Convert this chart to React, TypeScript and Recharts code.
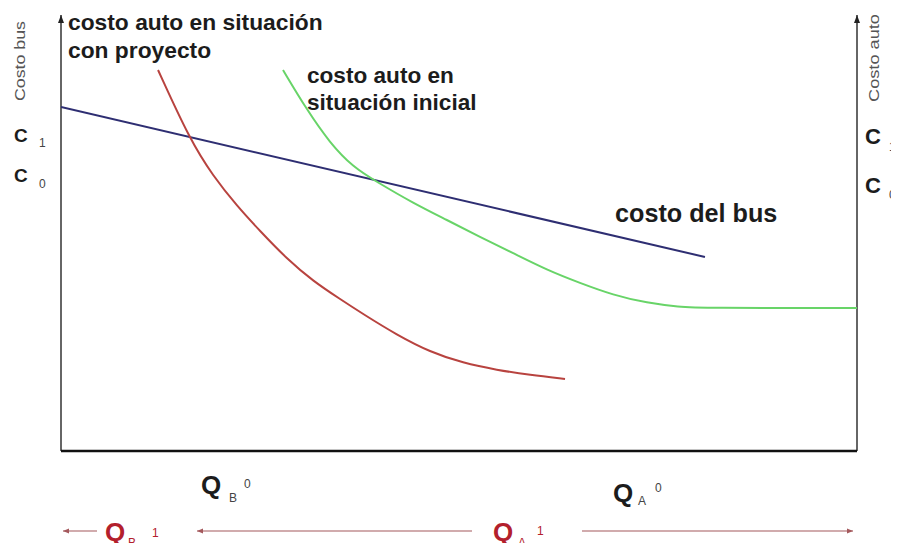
import React from "react";
import { LineChart, Line, XAxis, YAxis, ReferenceLine, ReferenceDot } from "recharts";

// Quantity axis runs 0..100 (left = bus, right = auto); cost axis 0..100
const busX = [0, 80.9];
const busY = [78.9, 44.5];

const autoProyectoX = [12.19, 16.21, 19.1, 22.11, 25.0, 28.39, 31.66, 35.05, 37.94, 42.21, 46.36, 50.5, 54.77, 58.92, 63.32];
const autoProyectoY = [87.39, 71.33, 63.07, 56.19, 50.46, 44.04, 38.99, 34.86, 31.42, 26.61, 22.71, 20.18, 18.58, 17.43, 16.51];

const autoInicialX = [27.89, 30.9, 33.79, 36.68, 39.7, 44.22, 48.49, 52.64, 56.78, 61.06, 65.2, 69.35, 73.62, 77.76, 80.28, 100];
const autoInicialY = [87.39, 78.21, 70.64, 65.14, 61.7, 56.88, 52.98, 49.08, 45.41, 41.51, 38.53, 35.78, 33.94, 33.03, 32.8, 32.8];

const toRows = (xs: number[], ys: number[]) => xs.map((x, i) => ({ x, y: ys[i] }));
const busData = toRows(busX, busY);
const proyectoData = toRows(autoProyectoX, autoProyectoY);
const inicialData = toRows(autoInicialX, autoInicialY);

const FONT = "'Liberation Sans', Arial, sans-serif";
const DARK = "#1c1c1c";
const QRED = "#b3202c";
const ARROW = "#a4585c";
const GREEN = "#68d468";

const ArrowUp = (props: any) => {
  const { cx, cy } = props;
  return <path d={`M${cx - 3},${cy + 8} L${cx + 3},${cy + 8} L${cx},${cy} Z`} fill="#222" />;
};

const HArrow = ({ x1, x2, y }: { x1: number; x2: number; y: number }) => {
  const dir = x2 > x1 ? 1 : -1;
  return (
    <g>
      <line x1={x1} y1={y} x2={x2} y2={y} stroke={ARROW} strokeWidth={1.2} />
      <path
        d={`M${x2},${y} L${x2 - dir * 6},${y - 2.5} L${x2 - dir * 6},${y + 2.5} Z`}
        fill={ARROW}
      />
    </g>
  );
};

export default function App() {
  return (
    <div style={{ width: 891, height: 543, marginBottom: -8 }}>
      <LineChart
        width={891}
        height={543}
        margin={{ top: 7, left: 53, right: 42, bottom: 100 }}
        style={{ fontFamily: FONT }}
      >
        <XAxis type="number" dataKey="x" domain={[0, 100]} hide allowDataOverflow />
        <YAxis type="number" dataKey="y" domain={[0, 100]} hide allowDataOverflow />

        <ReferenceLine x={0} stroke="#333" strokeWidth={1.5} />
        <ReferenceLine x={100} stroke="#333" strokeWidth={1.5} />
        <ReferenceLine y={0} stroke="#111" strokeWidth={2.5} />
        <ReferenceDot x={0} y={100} r={3} shape={ArrowUp} />
        <ReferenceDot x={100} y={100} r={3} shape={ArrowUp} />

        <Line data={busData} dataKey="y" type="linear" stroke="#2e2e72" strokeWidth={2} dot={false} isAnimationActive={false} />
        <Line data={proyectoData} dataKey="y" type="basis" stroke="#b8433f" strokeWidth={2} dot={false} isAnimationActive={false} />
        <Line data={inicialData} dataKey="y" type="basis" stroke={GREEN} strokeWidth={2} dot={false} isAnimationActive={false} />

        {/* axis titles */}
        <text x={12} y={53} transform="rotate(-90 12 53)" textAnchor="middle" dominantBaseline="central" fontFamily={FONT} fontSize={14} fill="#555" textLength={80} lengthAdjust="spacingAndGlyphs">Costo bus</text>
        <text x={866} y={50} transform="rotate(-90 866 50)" textAnchor="middle" dominantBaseline="central" fontFamily={FONT} fontSize={14} fill="#555" textLength={88} lengthAdjust="spacingAndGlyphs">Costo auto</text>

        {/* C labels */}
        <text x={6} y={134} fontFamily={FONT} fontSize={19} fontWeight="bold" fill={DARK}>C</text>
        <text x={31} y={139} fontFamily={FONT} fontSize={12} fill="#444">1</text>
        <text x={6} y={174} fontFamily={FONT} fontSize={19} fontWeight="bold" fill={DARK}>C</text>
        <text x={31} y={180} fontFamily={FONT} fontSize={12} fill="#444">0</text>
        <text x={857} y={136} fontFamily={FONT} fontSize={22} fontWeight="bold" fill={DARK}>C</text>
        <text x={881} y={143} fontFamily={FONT} fontSize={12} fill="#444">1</text>
        <text x={857} y={185} fontFamily={FONT} fontSize={22} fontWeight="bold" fill={DARK}>C</text>
        <text x={881} y={191} fontFamily={FONT} fontSize={12} fill="#444">0</text>

        {/* curve labels */}
        <text x={60} y={22} fontFamily={FONT} fontSize={22.8} fontWeight="bold" fill={DARK}>costo auto en situación</text>
        <text x={60} y={50} fontFamily={FONT} fontSize={22.8} fontWeight="bold" fill={DARK}>con proyecto</text>
        <text x={299} y={75} fontFamily={FONT} fontSize={22.6} fontWeight="bold" fill={DARK}>costo auto en</text>
        <text x={299} y={102} fontFamily={FONT} fontSize={22.6} fontWeight="bold" fill={DARK}>situación inicial</text>
        <text x={607} y={214} fontFamily={FONT} fontSize={25.2} fontWeight="bold" fill={DARK}>costo del bus</text>

        {/* quantity labels */}
        <text x={193} y={486} fontFamily={FONT} fontSize={26} fontWeight="bold" fill={DARK}>Q</text>
        <text x={221} y={494} fontFamily={FONT} fontSize={12} fill="#444">B</text>
        <text x={236} y={480} fontFamily={FONT} fontSize={12} fill="#444">0</text>

        <text x={605} y={494} fontFamily={FONT} fontSize={26} fontWeight="bold" fill={DARK}>Q</text>
        <text x={630} y={497} fontFamily={FONT} fontSize={12} fill="#444">A</text>
        <text x={647} y={484} fontFamily={FONT} fontSize={12} fill="#444">0</text>

        <HArrow x1={89} x2={55} y={523} />
        <text x={97} y={533} fontFamily={FONT} fontSize={26} fontWeight="bold" fill={QRED}>Q</text>
        <text x={120} y={539} fontFamily={FONT} fontSize={12} fill={QRED}>B</text>
        <text x={144} y={529} fontFamily={FONT} fontSize={12} fill={QRED}>1</text>

        <HArrow x1={464} x2={189} y={523} />
        <text x={485} y={533} fontFamily={FONT} fontSize={26} fontWeight="bold" fill={QRED}>Q</text>
        <text x={510} y={539} fontFamily={FONT} fontSize={12} fill={QRED}>A</text>
        <text x={529} y={527} fontFamily={FONT} fontSize={12} fill={QRED}>1</text>

        <HArrow x1={574} x2={845} y={523} />
      </LineChart>
    </div>
  );
}
